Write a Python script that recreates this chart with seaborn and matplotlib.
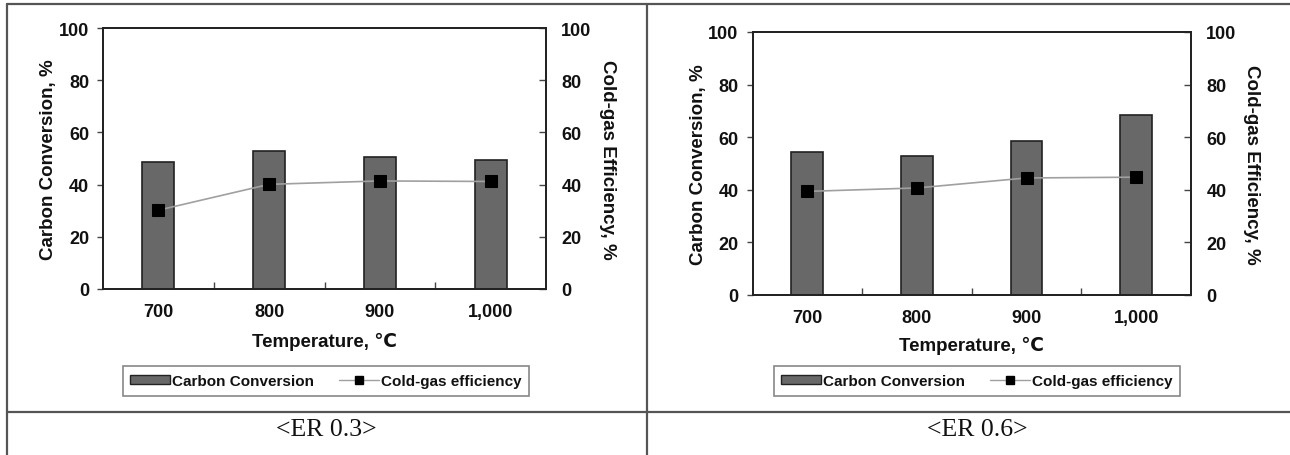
import matplotlib
matplotlib.use('Agg')
import seaborn as sns
import matplotlib.pyplot as plt
from matplotlib.patches import Patch
from matplotlib.lines import Line2D
from matplotlib.ticker import FixedLocator

sns.set_theme(style='white')
plt.rcParams['font.family'] = ['Liberation Sans', 'DejaVu Sans']

# data
temps = ['700', '800', '900', '1,000']
carbon_er03 = [48.8, 52.9, 50.4, 49.5]
cge_er03 = [30.2, 40.1, 41.4, 41.2]
carbon_er06 = [54.2, 52.8, 58.4, 68.6]
cge_er06 = [39.4, 40.7, 44.5, 44.8]
captions = ['<ER 0.3>', '<ER 0.6>']

W, H = 1290, 456
fig = plt.figure(figsize=(W / 100, H / 100), dpi=100)

bar_col = '#686868'


def panel(box, carbon, cge, caption, cap_x, xlab_y):
    x0, y_top, x1, y_bot = box
    ax = fig.add_axes([x0 / W, 1 - y_bot / H, (x1 - x0) / W, (y_bot - y_top) / H])
    sns.barplot(x=temps, y=carbon, ax=ax, color=bar_col, width=0.29,
                edgecolor='#222222', linewidth=1.2, saturation=1)
    ax2 = ax.twinx()
    sns.lineplot(x=temps, y=cge, ax=ax2, color='#a0a0a0', linewidth=1.2,
                 marker='s', markersize=8, markerfacecolor='black',
                 markeredgecolor='black', sort=False)
    for a in (ax, ax2):
        a.set_ylim(0, 100)
        a.set_yticks(range(0, 101, 20))
        for s in a.spines.values():
            s.set_color('#222222')
            s.set_linewidth(1.3)
    ax.set_xlim(-0.5, 3.5)
    ax.tick_params(axis='y', direction='out', length=4, width=1, color='#444',
                   labelsize=13, pad=6, left=True)
    ax2.tick_params(axis='y', direction='in', length=5, width=1, color='#444',
                    labelsize=13, pad=11, right=True)
    ax.tick_params(axis='x', length=0, labelsize=13, pad=10)
    ax.xaxis.set_minor_locator(FixedLocator([0.5, 1.5, 2.5]))
    ax.tick_params(axis='x', which='minor', direction='in', length=5, width=1,
                   color='#444', bottom=True)
    for lab in ax.get_xticklabels() + ax.get_yticklabels() + ax2.get_yticklabels():
        lab.set_fontweight('bold')
        lab.set_color('#111111')
    ax.set_xlabel('Temperature, ℃', fontsize=13.5, fontweight='bold', color='#111')
    ax.xaxis.set_label_coords(0.5, -(xlab_y - y_bot) / (y_bot - y_top))
    ax.set_ylabel('Carbon Conversion, %', fontsize=13.5, fontweight='bold',
                  color='#111')
    ax.yaxis.set_label_coords(-0.104, 0.5)
    ax2.set_ylabel('Cold-gas Efficiency, %', fontsize=13.5, fontweight='bold',
                   color='#111', rotation=270, va='center')
    ax2.yaxis.set_label_coords(1.138, 0.5)
    handles = [Patch(facecolor=bar_col, edgecolor='#222222', linewidth=1),
               Line2D([], [], color='#a0a0a0', lw=1, marker='s', markersize=6,
                      markerfacecolor='black', markeredgecolor='black')]
    leg = ax.legend(handles, ['Carbon Conversion', 'Cold-gas efficiency'],
                    loc='center', bbox_to_anchor=(cap_x / W, 1 - 382 / H),
                    bbox_transform=fig.transFigure, ncol=2, frameon=True,
                    fancybox=False, edgecolor='#888888', framealpha=1,
                    prop={'weight': 'bold', 'size': 11},
                    handlelength=2.6, handleheight=0.45, handletextpad=0.15,
                    columnspacing=1.6, borderpad=0.5)
    leg.get_frame().set_linewidth(1.2)
    for t in leg.get_texts():
        t.set_color('#111111')
    fig.text(cap_x / W, 1 - 430 / H, caption, ha='center', va='center',
             fontsize=18.5, family=['Liberation Serif', 'DejaVu Serif'], color='#111')


panel((103, 29, 546, 290), carbon_er03, cge_er03, captions[0], 326, 333)
panel((752.5, 33, 1191, 296), carbon_er06, cge_er06, captions[1], 977, 337)

# table frame lines
frame = dict(color='#555555', lw=1.6, transform=fig.transFigure)
fig.add_artist(Line2D([7 / W, 1], [1 - 5 / H, 1 - 5 / H], **frame))
fig.add_artist(Line2D([7 / W, 7 / W], [0, 1 - 5 / H], **frame))
fig.add_artist(Line2D([647 / W, 647 / W], [0, 1 - 5 / H], **frame))
fig.add_artist(Line2D([7 / W, 1], [1 - 413 / H, 1 - 413 / H], **frame))

fig.savefig('out.png', dpi=100, facecolor='white')
